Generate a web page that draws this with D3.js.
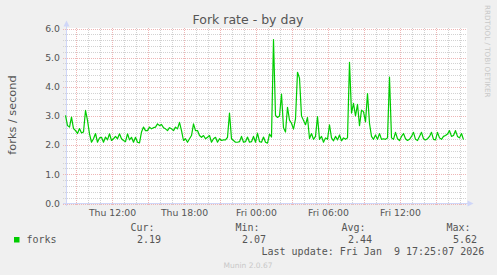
<!DOCTYPE html>
<html>
<head>
<meta charset="utf-8">
<script src="https://cdn.jsdelivr.net/npm/d3@7"></script>
<style>
    body { margin: 0; background: #f0f0f0; }
    text { font-family: "DejaVu Sans", sans-serif; fill: #555; }
    .mono { font-family: "DejaVu Sans Mono", monospace; font-size: 10px; white-space: pre; }
</style>
</head>
<body>
<script>
// fork rate samples, one every 10 minutes from Thu 08:05
var startTime = new Date(2026, 0, 8, 8, 5);
var endTime = new Date(2026, 0, 9, 17, 25);
var stepMinutes = 10;
var forks = [
    3.02, 2.67, 2.62, 2.96, 2.57, 2.50, 2.40, 2.57, 2.42, 2.45,
    3.19, 2.85, 2.39, 2.10, 2.22, 2.40, 2.10, 2.25, 2.27, 2.10,
    2.28, 2.18, 2.39, 2.16, 2.22, 2.30, 2.22, 2.39, 2.22, 2.16,
    2.12, 2.39, 2.18, 2.27, 2.10, 2.27, 2.10, 2.08, 2.45, 2.62,
    2.50, 2.50, 2.62, 2.56, 2.60, 2.62, 2.73, 2.67, 2.71, 2.60,
    2.56, 2.50, 2.60, 2.56, 2.50, 2.62, 2.56, 2.78, 2.50, 2.16,
    2.22, 2.10, 2.22, 2.33, 2.73, 2.50, 2.50, 2.33, 2.27, 2.33,
    2.22, 2.27, 2.33, 2.10, 2.22, 2.27, 2.10, 2.22, 2.16, 2.18,
    2.18, 2.27, 3.10, 2.22, 2.16, 2.10, 2.10, 2.12, 2.30, 2.10,
    2.12, 2.28, 2.10, 2.12, 2.30, 2.10, 2.41, 2.12, 2.10, 2.28,
    2.10, 2.07, 2.38, 2.28, 5.62, 3.02, 2.95, 3.00, 3.75, 2.60,
    2.45, 3.30, 2.86, 2.75, 2.55, 2.90, 4.50, 4.30, 3.00, 2.85,
    2.70, 2.95, 2.23, 2.40, 2.20, 2.30, 2.98, 2.20, 2.30, 2.10,
    2.25, 2.20, 2.70, 2.25, 2.15, 2.30, 2.18, 2.35, 2.15, 2.25,
    2.20, 2.25, 4.84, 3.10, 3.43, 3.00, 3.40, 2.67, 3.20, 3.15,
    2.80, 3.77, 2.75, 2.30, 2.20, 2.35, 2.20, 2.40, 2.20, 2.22,
    2.20, 2.25, 4.33, 2.25, 2.20, 2.44, 2.22, 2.16, 2.30, 2.40,
    2.22, 2.16, 2.20, 2.30, 2.44, 2.20, 2.16, 2.30, 2.44, 2.22,
    2.18, 2.22, 2.30, 2.44, 2.20, 2.18, 2.44, 2.25, 2.20, 2.30,
    2.33, 2.38, 2.50, 2.30, 2.33, 2.50, 2.30, 2.25, 2.40, 2.19
];
var yTicks = [0, 1, 2, 3, 4, 5, 6];
var legendLabels = ["Cur:", "Min:", "Avg:", "Max:"];
var legendValues = ["2.19", "2.07", "2.44", "5.62"];
var seriesName = "forks";
var lastUpdate = "Last update: Fri Jan  9 17:25:07 2026";

var width = 497;
var height = 275;
var plot = {left: 66, right: 467, top: 28, bottom: 203};

var svg = d3.select("body")
            .append("svg")
            .attr("width", width)
            .attr("height", height);

svg.append("rect")
    .attr("width", width)
    .attr("height", height)
    .attr("fill", "#f0f0f0");

// white canvas
svg.append("rect")
    .attr("x", plot.left)
    .attr("y", plot.top)
    .attr("width", plot.right - plot.left)
    .attr("height", plot.bottom - plot.top)
    .attr("fill", "#fff");

var xScale = d3.scaleTime()
                .domain([startTime, endTime])
                .range([65.5, 465.5]);

var yScale = d3.scaleLinear()
                .domain([0, 6])
                .range([203.5, 28.5]);

var minorColor = "#d2d2d2";
var majorColor = "#eeb6b6";

// grid: minor first, major on top; lines poke 3px out of the canvas as ticks
var minorY = d3.range(0, 6.01, 0.2).filter(function(v) { return Math.abs(v - Math.round(v)) > 0.01; });
svg.append("g").selectAll("line")
    .data(minorY)
    .enter()
    .append("line")
    .attr("x1", plot.left - 3)
    .attr("x2", plot.right)
    .attr("y1", function(d) { return Math.round(yScale(d)) + 0.5; })
    .attr("y2", function(d) { return Math.round(yScale(d)) + 0.5; })
    .attr("stroke", minorColor)
    .attr("stroke-dasharray", "1,1");

var hours = d3.timeHour.range(startTime, endTime);
svg.append("g").selectAll("line")
    .data(hours.filter(function(d) { return d.getHours() % 3 != 0; }))
    .enter()
    .append("line")
    .attr("x1", function(d) { return Math.floor(xScale(d)) + 0.5; })
    .attr("x2", function(d) { return Math.floor(xScale(d)) + 0.5; })
    .attr("y1", plot.top)
    .attr("y2", plot.bottom + 3)
    .attr("stroke", minorColor)
    .attr("stroke-dasharray", "1,1");

svg.append("g").selectAll("line")
    .data(yTicks)
    .enter()
    .append("line")
    .attr("x1", plot.left - 3)
    .attr("x2", plot.right)
    .attr("y1", function(d) { return Math.round(yScale(d)) + 0.5; })
    .attr("y2", function(d) { return Math.round(yScale(d)) + 0.5; })
    .attr("stroke", majorColor)
    .attr("stroke-dasharray", "1,1");

var majorX = hours.filter(function(d) { return d.getHours() % 3 == 0; });
svg.append("g").selectAll("line")
    .data(majorX)
    .enter()
    .append("line")
    .attr("x1", function(d) { return Math.floor(xScale(d)) + 0.5; })
    .attr("x2", function(d) { return Math.floor(xScale(d)) + 0.5; })
    .attr("y1", plot.top)
    .attr("y2", plot.bottom + 3)
    .attr("stroke", majorColor)
    .attr("stroke-dasharray", "1,1");

// axes with arrows
var axisColor = "#cfd6f8";
svg.append("line")
    .attr("x1", 66.5).attr("x2", 66.5)
    .attr("y1", plot.bottom + 3).attr("y2", 24)
    .attr("stroke", axisColor);
svg.append("path")
    .attr("d", "M63.5,26.5L69.5,26.5L66.5,20.5Z")
    .attr("fill", axisColor);
svg.append("line")
    .attr("x1", plot.left - 3).attr("x2", 470)
    .attr("y1", 203.5).attr("y2", 203.5)
    .attr("stroke", axisColor);
svg.append("path")
    .attr("d", "M467.5,200.5L467.5,206.5L473.5,203.5Z")
    .attr("fill", axisColor);

// tick labels
svg.append("g").selectAll("text")
    .data(yTicks)
    .enter()
    .append("text")
    .attr("x", 60)
    .attr("y", function(d) { return yScale(d) + 3.3; })
    .attr("text-anchor", "end")
    .style("font-size", "9.3px")
    .text(function(d) { return d.toFixed(1); });

var labelFormat = d3.timeFormat("%a %H:%M");
svg.append("g").selectAll("text")
    .data(hours.filter(function(d) { return d.getHours() % 6 == 0; }))
    .enter()
    .append("text")
    .attr("x", function(d) { return xScale(d); })
    .attr("y", 215.5)
    .attr("text-anchor", "middle")
    .style("font-size", "9.3px")
    .text(function(d) { return labelFormat(d); });

// the series
var line = d3.line()
            .x(function(d, i) { return xScale(d3.timeMinute.offset(startTime, i * stepMinutes)); })
            .y(function(d) { return yScale(d); });

svg.append("path")
    .datum(forks)
    .attr("d", line)
    .attr("fill", "none")
    .attr("stroke", "#00cc00")
    .attr("stroke-width", 1.2)
    .attr("stroke-linejoin", "round");

// titles
svg.append("text")
    .attr("x", 248)
    .attr("y", 24)
    .attr("text-anchor", "middle")
    .style("font-size", "12.5px")
    .text("Fork rate - by day");

svg.append("text")
    .attr("transform", "translate(15.5,115) rotate(-90)")
    .attr("text-anchor", "middle")
    .style("font-size", "11.3px")
    .text("forks / second");

svg.append("text")
    .attr("transform", "translate(485,5) rotate(90)")
    .style("font-size", "7.2px")
    .style("fill", "#c8c8c8")
    .text("RRDTOOL / TOBI OETIKER");

// legend
svg.append("rect")
    .attr("x", 14)
    .attr("y", 237)
    .attr("width", 5.5)
    .attr("height", 5.5)
    .attr("fill", "#00cc00");

svg.append("text")
    .attr("class", "mono")
    .attr("x", 26.5)
    .attr("y", 243)
    .text(seriesName);

var labelRight = [154.5, 259.5, 365.5, 470.5];
svg.append("g").selectAll("text")
    .data(legendLabels)
    .enter()
    .append("text")
    .attr("class", "mono")
    .attr("x", function(d, i) { return labelRight[i]; })
    .attr("y", 231)
    .attr("text-anchor", "end")
    .text(function(d) { return d; });

svg.append("g").selectAll("text")
    .data(legendValues)
    .enter()
    .append("text")
    .attr("class", "mono")
    .attr("x", function(d, i) { return labelRight[i] + 6.5; })
    .attr("y", 243)
    .attr("text-anchor", "end")
    .text(function(d) { return d; });

svg.append("text")
    .attr("class", "mono")
    .attr("x", 261.5)
    .attr("y", 254.5)
    .text(lastUpdate);

svg.append("text")
    .attr("x", 248)
    .attr("y", 267.5)
    .attr("text-anchor", "middle")
    .style("font-size", "7.5px")
    .style("fill", "#c8c8c8")
    .text("Munin 2.0.67");
</script>
</body>
</html>
